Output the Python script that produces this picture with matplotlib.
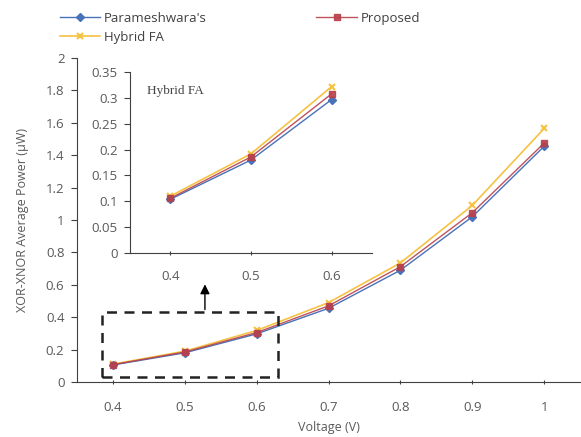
import numpy as np
import matplotlib
import matplotlib.pyplot as plt
from matplotlib.patches import Rectangle
from matplotlib.ticker import FormatStrFormatter, MultipleLocator

matplotlib.use("Agg")

plt.rcParams.update({
    "font.family": ["Open Sans", "DejaVu Sans"],
    "axes.labelsize": 9,
    "xtick.labelsize": 9.5,
    "ytick.labelsize": 9.5,
    "legend.fontsize": 9.5,
})

voltage = [0.4, 0.5, 0.6, 0.7, 0.8, 0.9, 1.0]
p_param = [0.105, 0.180, 0.297, 0.455, 0.690, 1.020, 1.455]
p_proposed = [0.107, 0.185, 0.305, 0.470, 0.712, 1.045, 1.475]
p_hybrid = [0.110, 0.190, 0.318, 0.490, 0.735, 1.090, 1.565]

inset_v = [0.4, 0.5, 0.6]
inset_param = [0.104, 0.180, 0.297]
inset_proposed = [0.106, 0.186, 0.308]
inset_hybrid = [0.110, 0.192, 0.322]

c_blue = "#4a72b8"
c_red = "#b8404a"
c_yellow = "#f5c242"
tick_col = "#595959"

fig = plt.figure(figsize=(5.81, 4.37), dpi=100)

# main axes
ax = fig.add_axes([0.1325, 0.1259, 0.866, 0.7414])
l1, = ax.plot(voltage, p_param, color=c_blue, lw=1, marker="D", ms=4.5, zorder=3)
l2, = ax.plot(voltage, p_proposed, color=c_red, lw=1, marker="s", ms=5, zorder=4, alpha=0.9)
l3, = ax.plot(voltage, p_hybrid, color=c_yellow, lw=1.2, marker="x", ms=5, mew=1.5, zorder=2)

ax.set_xlim(0.35, 1.05)
ax.set_ylim(0, 2)
ax.set_xticks(voltage)
ax.set_xticklabels(["0.4", "0.5", "0.6", "0.7", "0.8", "0.9", "1"])
ax.yaxis.set_major_locator(MultipleLocator(0.2))
ax.yaxis.set_major_formatter(FormatStrFormatter("%g"))
ax.set_xlabel("Voltage (V)", color=tick_col, labelpad=5)
ax.set_ylabel("XOR-XNOR Average Power (\u00b5W)", color=tick_col, labelpad=12)
for s in ["top", "right"]:
    ax.spines[s].set_visible(False)
for s in ["left", "bottom"]:
    ax.spines[s].set_color("#404040")
ax.tick_params(axis="x", colors=tick_col, length=3, direction="inout", pad=12)
ax.tick_params(axis="y", colors=tick_col, length=4, direction="out", pad=5)
ax.tick_params(axis="both", color="#404040")

# dashed zoom box and arrow
ax.add_patch(Rectangle((0.385, 0.03), 0.244, 0.40, fill=False, ls=(0, (4, 3)),
                       lw=1.8, ec="#222222", zorder=5))
ax.annotate("", xy=(0.528, 0.62), xytext=(0.528, 0.43),
            arrowprops=dict(arrowstyle="-|>", color="black", lw=1, mutation_scale=14))

# inset
ins = fig.add_axes([0.2238, 0.421, 0.4165, 0.414])
ins.plot(inset_v, inset_param, color=c_blue, lw=1, marker="D", ms=4.5, zorder=3)
ins.plot(inset_v, inset_proposed, color=c_red, lw=1, marker="s", ms=5, zorder=4, alpha=0.9)
ins.plot(inset_v, inset_hybrid, color=c_yellow, lw=1.2, marker="x", ms=5, mew=1.5, zorder=2)
ins.set_xlim(0.35, 0.65)
ins.set_ylim(0, 0.35)
ins.set_xticks(inset_v)
ins.set_xticklabels(["0.4", "0.5", "0.6"])
ins.yaxis.set_major_locator(MultipleLocator(0.05))
ins.yaxis.set_major_formatter(FormatStrFormatter("%g"))
for s in ["top", "right"]:
    ins.spines[s].set_visible(False)
for s in ["left", "bottom"]:
    ins.spines[s].set_color("#404040")
ins.tick_params(axis="x", colors=tick_col, length=3, direction="inout", pad=11)
ins.tick_params(axis="y", colors=tick_col, length=4, direction="out", pad=5)
ins.tick_params(axis="both", color="#404040")
ins.text(0.07, 0.93, "Hybrid FA", transform=ins.transAxes, fontsize=9.5,
         family=["Liberation Serif", "DejaVu Serif"], color="#444444", va="top")

# legend above the plot
fig.legend([l1, l3, l2], ["Parameshwara's", "Hybrid FA", "Proposed"], ncol=2,
           loc="upper left", bbox_to_anchor=(0.082, 1.0), frameon=False,
           handlelength=3.1, columnspacing=8.3, labelspacing=0.45, handletextpad=0.25,
           labelcolor="#404040")

fig.savefig("out.png", dpi=100)
